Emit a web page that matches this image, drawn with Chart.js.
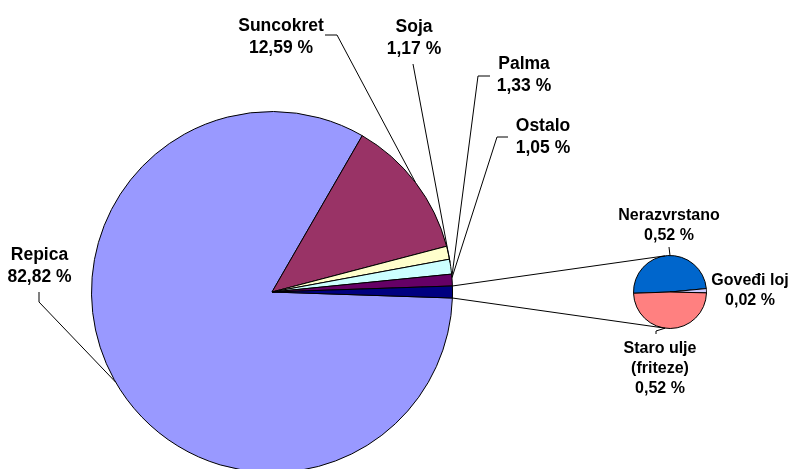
<!DOCTYPE html>
<html>
<head>
<meta charset="utf-8">
<script src="https://cdn.jsdelivr.net/npm/chart.js@4"></script>
<style>
  html, body { margin: 0; padding: 0; background: #fff; overflow: hidden; }
  #wrap { position: relative; width: 790px; height: 469px; overflow: hidden; }
  canvas { position: absolute; left: 0; top: 0; }
</style>
</head>
<body>
<div id="wrap">
  <canvas id="mainPie" width="790" height="480"></canvas>
  <canvas id="subPie" width="790" height="480"></canvas>
</div>
<script>
// Main pie
const mainLabels = ['Repica', 'Suncokret', 'Soja', 'Palma', 'Ostalo'];
const mainValues = [82.82, 12.59, 1.17, 1.33, 1.05];
const mainColors = ['#9999FF', '#993366', '#FFFFCC', '#CCFFFF', '#660066'];
const otherColor = '#000080';

// Secondary pie (the split of the last slice)
const subLabels = [['Nerazvrstano'], ['Goveđi loj'], ['Staro ulje', '(friteze)']];
const subValues = [0.52, 0.02, 0.52];
const subColors = ['#0066CC', '#CCCCFF', '#FF8080'];

const otherTotal = subValues.reduce((a, b) => a + b, 0);

// Label layout: [center x, first baseline]
const mainLabelPos = [[39.5, 260], [281, 31], [414, 32], [524, 69], [543, 131]];
const mainLeaderElbows = [[[39, 292], [39, 302]], [[325, 35], [337, 35]], [[413, 64]], [[490, 76], [478, 76]], [[508, 137], [497, 137]]];
const mainLeaderShift = [-0.9, 0, 3.2, 3.3, -0.7];

const subLabelPos = [[669, 220], [750, 285], [660, 353]];
const subLeaderElbows = [[[669, 247]], null, [[656, 334], [656, 331]]];
const subLeaderShift = [3.7, 0, 8];

const mainFont = 'bold 17.5px "Liberation Sans", Arial, sans-serif';
const subFont = 'bold 16px "Liberation Sans", Arial, sans-serif';

function pct(v) {
  return v.toFixed(2).replace('.', ',') + ' %';
}

// Point on the outer edge of an arc, at its middle plus a shift in degrees
function arcPoint(arc, shift) {
  const a = (arc.startAngle + arc.endAngle) / 2 + shift * Math.PI / 180;
  return [arc.x + arc.outerRadius * Math.cos(a), arc.y + arc.outerRadius * Math.sin(a)];
}

function drawLeader(ctx, elbows, end) {
  ctx.beginPath();
  ctx.moveTo(elbows[0][0], elbows[0][1]);
  for (let i = 1; i < elbows.length; i++) ctx.lineTo(elbows[i][0], elbows[i][1]);
  ctx.lineTo(end[0], end[1]);
  ctx.stroke();
}

function drawText(ctx, lines, pos, font, gap) {
  ctx.font = font;
  ctx.fillStyle = '#000';
  ctx.textAlign = 'center';
  ctx.textBaseline = 'alphabetic';
  lines.forEach((t, i) => ctx.fillText(t, pos[0], pos[1] + i * gap));
}

const mainLabelPlugin = {
  id: 'mainLabels',
  afterDraw(chart) {
    const ctx = chart.ctx;
    const arcs = chart.getDatasetMeta(0).data;
    ctx.save();
    ctx.strokeStyle = '#000';
    ctx.lineWidth = 1;
    mainLabels.forEach((name, i) => {
      drawLeader(ctx, mainLeaderElbows[i], arcPoint(arcs[i], mainLeaderShift[i]));
      drawText(ctx, [name, pct(mainValues[i])], mainLabelPos[i], mainFont, 22);
    });
    ctx.restore();
  }
};

const mainChart = new Chart(document.getElementById('mainPie'), {
  type: 'pie',
  data: {
    labels: [...mainLabels, 'Other'],
    datasets: [{
      data: [...mainValues, otherTotal],
      backgroundColor: [...mainColors, otherColor],
      borderColor: '#000',
      borderWidth: 1
    }]
  },
  options: {
    responsive: false,
    animation: false,
    events: [],
    rotation: 90 + (otherTotal / (mainValues.reduce((a, b) => a + b, 0) + otherTotal)) * 180,
    layout: { padding: { left: 91, top: 111, right: 337, bottom: 7 } },
    plugins: { legend: { display: false }, tooltip: { enabled: false } }
  },
  plugins: [mainLabelPlugin]
});

// Tangent point from P to circle (cx, cy, r); pick upper or lower one
function tangent(p, cx, cy, r, upper) {
  const d = Math.hypot(p[0] - cx, p[1] - cy);
  const base = Math.atan2(p[1] - cy, p[0] - cx);
  const al = Math.acos(r / d);
  const t1 = [cx + r * Math.cos(base + al), cy + r * Math.sin(base + al)];
  const t2 = [cx + r * Math.cos(base - al), cy + r * Math.sin(base - al)];
  if (upper) return t1[1] < t2[1] ? t1 : t2;
  return t1[1] > t2[1] ? t1 : t2;
}

const subLabelPlugin = {
  id: 'subLabels',
  afterDraw(chart) {
    const ctx = chart.ctx;
    const arcs = chart.getDatasetMeta(0).data;
    const other = mainChart.getDatasetMeta(0).data[mainValues.length];
    const c = arcs[0];
    ctx.save();
    ctx.strokeStyle = '#000';
    ctx.lineWidth = 1;
    // connector lines between the pies
    const pa = [other.x + other.outerRadius * Math.cos(other.startAngle), other.y + other.outerRadius * Math.sin(other.startAngle)];
    const pb = [other.x + other.outerRadius * Math.cos(other.endAngle), other.y + other.outerRadius * Math.sin(other.endAngle)];
    [[pa, true], [pb, false]].forEach(([p, up]) => {
      const t = tangent(p, c.x, c.y, c.outerRadius, up);
      ctx.beginPath();
      ctx.moveTo(p[0], p[1]);
      ctx.lineTo(t[0], t[1]);
      ctx.stroke();
    });
    subLabels.forEach((lines, i) => {
      if (subLeaderElbows[i]) drawLeader(ctx, subLeaderElbows[i], arcPoint(arcs[i], subLeaderShift[i]));
      drawText(ctx, [...lines, pct(subValues[i])], subLabelPos[i], subFont, 20);
    });
    ctx.restore();
  }
};

new Chart(document.getElementById('subPie'), {
  type: 'pie',
  data: {
    labels: subLabels.map(l => l.join(' ')),
    datasets: [{
      data: subValues,
      backgroundColor: subColors,
      borderColor: '#000',
      borderWidth: 1
    }]
  },
  options: {
    responsive: false,
    animation: false,
    events: [],
    rotation: 268,
    layout: { padding: { left: 633, top: 255, right: 83, bottom: 151 } },
    plugins: { legend: { display: false }, tooltip: { enabled: false } }
  },
  plugins: [subLabelPlugin]
});
</script>
</body>
</html>
